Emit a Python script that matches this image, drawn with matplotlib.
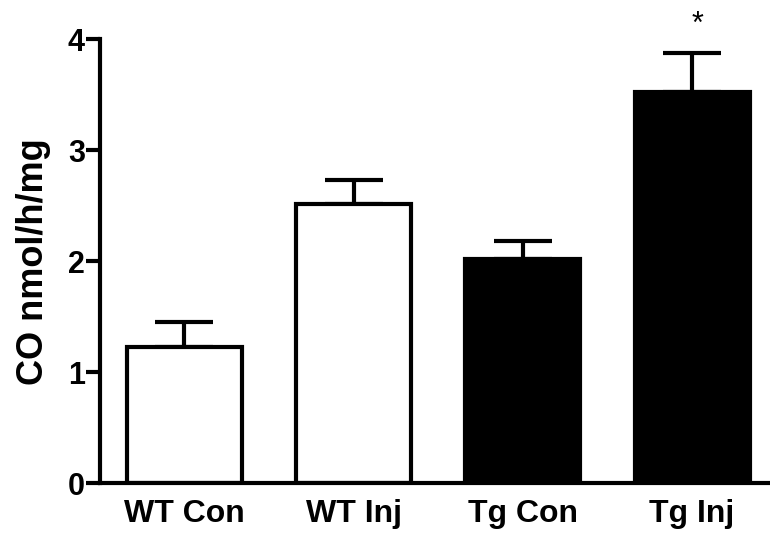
import matplotlib
matplotlib.use("Agg")
import matplotlib.pyplot as plt

categories = ["WT Con", "WT Inj", "Tg Con", "Tg Inj"]
means = [1.23, 2.52, 2.02, 3.52]
sem = [0.22, 0.21, 0.16, 0.36]
fills = ["white", "white", "black", "black"]
ylabel = "CO nmol/h/mg"
yticks = [0, 1, 2, 3, 4]

plt.rcParams['font.family'] = ['Liberation Sans', 'DejaVu Sans']
plt.rcParams['font.weight'] = 'bold'

fig = plt.figure(figsize=(7.7, 5.37), dpi=100)
ax = fig.add_axes([0.13, 0.1, 0.87, 0.827])
x = list(range(len(categories)))
ax.bar(x, means, width=0.68, color=fills, edgecolor="black", linewidth=3, zorder=2)
ax.errorbar(x, means, yerr=[[0]*len(sem), sem], fmt="none", ecolor="black",
            elinewidth=3, capsize=21, capthick=3, zorder=1)
ax.text(3.03, 4.13, "*", ha="center", va="center", fontsize=22, fontweight="normal")

ax.set_xlim(-0.497, 3.46)
ax.set_ylim(0, 4)
ax.set_yticks(yticks)
ax.set_xticks(x)
ax.set_xticklabels(categories, fontsize=23, fontweight="bold")
ax.set_yticklabels([str(t) for t in yticks], fontsize=22, fontweight="bold")
ax.set_ylabel(ylabel, fontsize=26, fontweight="bold", labelpad=12)
for s in ["top", "right"]:
    ax.spines[s].set_visible(False)
for s in ["left", "bottom"]:
    ax.spines[s].set_linewidth(3)
ax.tick_params(axis="y", length=10, width=3, pad=1)
ax.tick_params(axis="x", length=0, pad=11)
fig.savefig("out.png", dpi=100)
